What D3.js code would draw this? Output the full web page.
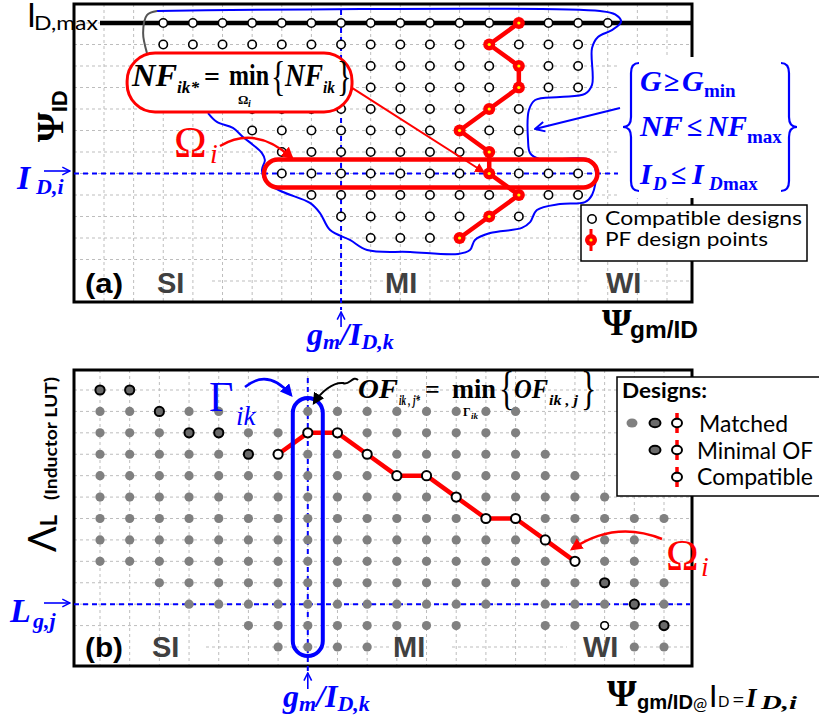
<!DOCTYPE html>
<html>
<head>
<meta charset="utf-8">
<script src="https://cdn.jsdelivr.net/npm/d3@7"></script>
<style>
  body { margin: 0; background: #fff; }
  svg { display: block; }
</style>
</head>
<body>
<div id="chart"></div>
<script>
// ---- data ----
// both panels are a 20 x 13 grid of design points (gm/ID columns x ID / inductor rows)
const nCols = 20, nRows = 13;

// (a) compatible designs: first and last gm/ID column for each ID row (row 0 = ID,max)
const compatRanges = [[2, 17], [2, 16], [2, 16], [2, 16], [5, 14], [5, 14], [6, 14], [6, 16], [7, 16], [8, 14], [9, 12]];
// (a) Pareto-front design point: gm/ID column for each ID row
const pfCols = [14, 13, 14, 14, 13, 12, 13, 13, 14, 13, 12];
const idRowI = 7;    // I_D,i
const gmColA = 8;    // gm/ID,k in (a)

// (a) region Omega_i boundary, in [column, row] units
const contour = [[1.79, -0.56], [16.74, -0.56], [17.25, -0.4], [17.45, -0.05], [17.14, 0.33], [16.67, 0.65], [16.47, 1.16],
  [16.47, 2.88], [16.23, 3.3], [15.39, 3.44], [14.55, 3.58], [14.34, 4.05], [14.31, 5.44], [14.38, 6.05], [14.71, 6.33],
  [16.4, 6.37], [16.6, 6.93], [16.47, 8.0], [16.23, 8.33], [15.39, 8.42], [14.61, 8.7], [14.38, 9.26], [14.1, 9.53],
  [13.03, 9.77], [12.52, 10.09], [12.35, 10.56], [11.95, 10.74], [10.33, 10.65], [8.88, 10.56], [8.3, 10.09],
  [7.63, 9.63], [7.29, 8.84], [6.95, 8.37], [6.04, 7.86], [5.5, 7.44], [5.33, 6.84], [5.43, 6.37], [5.33, 6.05],
  [5.03, 5.67], [4.69, 5.3], [4.35, 4.88], [3.81, 4.6], [3.51, 4.19]];
const contourTail = [[1.45, 1.4], [1.32, 0.47], [1.45, -0.37], [1.79, -0.56]];

// (b) matched designs: column ranges for each inductor LUT row
const matchedRanges = [
  [[0, 1]], [[0, 4], [7, 14]], [[0, 14]], [[0, 15]], [[0, 16]], [[0, 17]], [[0, 19]],
  [[0, 18]], [[0, 18]], [[2, 19]], [[3, 13], [15, 19]], [[5, 12], [15, 19]], [[6, 9], [18, 19]]
];
// (b) minimal-OF designs [row, column]
const minimalOF = [[0, 0], [0, 1], [1, 2], [2, 3], [2, 4], [3, 5], [9, 17], [10, 18], [11, 19]];
// (b) compatible designs along Omega_i [row, column]
const omegaPath = [[3, 6], [2, 7], [2, 8], [3, 9], [4, 10], [4, 11], [5, 12], [6, 13], [6, 14], [7, 15], [8, 16]];
const compatExtra = [[11, 17]];
const lgRowJ = 10;   // Lg,j
const gmColB = 7;    // gm/ID,k in (b)

// ---- setup ----
const W = 819, H = 721;
const SANS = "Lato, 'Open Sans', sans-serif";
const ARIAL = "'Liberation Sans', Arial, sans-serif";
const SERIF = "'Liberation Serif', 'DejaVu Serif', serif";
const BLUE = '#0000ff', RED = '#ff0000', GRID = '#bdbdbd';

const fA = { l: 74, t: 4, r: 692, b: 302 };
const fB = { l: 74, t: 370, r: 692, b: 666 };

const xA = d3.scaleLinear().domain([0, nCols - 1]).range([104, 667]);
const yA = d3.scaleLinear().domain([0, nRows - 1]).range([23, 281]);
const xB = d3.scaleLinear().domain([0, nCols - 1]).range([100, 664]);
const yB = d3.scaleLinear().domain([0, nRows - 1]).range([390, 647]);

const svg = d3.select('#chart').append('svg')
  .attr('width', W).attr('height', H)
  .style('background', '#fff');

const defs = svg.append('defs');
function marker(id, color, open, size) {
  const m = defs.append('marker').attr('id', id)
    .attr('viewBox', '0 0 10 10').attr('refX', open ? 9 : 8).attr('refY', 5)
    .attr('markerWidth', size).attr('markerHeight', size)
    .attr('orient', 'auto');
  if (open) {
    m.append('path').attr('d', 'M1,1 L9,5 L1,9').attr('fill', 'none')
      .attr('stroke', color).attr('stroke-width', 1.6);
  } else {
    m.append('path').attr('d', 'M0,0 L10,5 L0,10 z').attr('fill', color);
  }
}
marker('hRed', RED, false, 5);
marker('hBlue', BLUE, false, 5);
marker('hBlack', '#000', false, 6);
marker('oBlue', BLUE, true, 6);

function label(g, x, y, s, o) {
  const t = g.append('text').attr('x', x).attr('y', y).text(s)
    .attr('font-family', o.ff || SANS).attr('font-size', o.fs)
    .attr('fill', o.fill || '#000');
  if (o.fw) t.attr('font-weight', o.fw);
  if (o.it) t.attr('font-style', 'italic');
  if (o.len) t.attr('textLength', o.len).attr('lengthAdjust', 'spacingAndGlyphs');
  if (o.rot) t.attr('transform', `rotate(${o.rot},${x},${y})`);
  return t;
}
// tall curly bracket glyph, stretched vertically
function tallBracket(g, x, y, s, fs) {
  return g.append('text').attr('transform', `translate(${x},${y}) scale(1,1.42)`)
    .attr('font-family', SERIF).attr('font-size', fs).text(s);
}

function hGrid(g, f, y) {
  g.selectAll('line').data(d3.range(nRows)).join('line')
    .attr('x1', f.l).attr('x2', f.r)
    .attr('y1', d => y(d)).attr('y2', d => y(d))
    .attr('stroke', GRID).attr('stroke-width', 1).attr('stroke-dasharray', '3,3');
}
function vGrid(g, f, x) {
  g.selectAll('line').data(d3.range(nCols)).join('line')
    .attr('x1', d => x(d)).attr('x2', d => x(d))
    .attr('y1', f.t).attr('y2', f.b)
    .attr('stroke', GRID).attr('stroke-width', 1).attr('stroke-dasharray', '3,3');
}
function frame(g, f) {
  g.append('rect').attr('x', f.l).attr('y', f.t)
    .attr('width', f.r - f.l).attr('height', f.b - f.t)
    .attr('fill', 'none').attr('stroke', '#000').attr('stroke-width', 3);
}
function gap(strip, x0, x1, y) {
  strip.append('rect').attr('x', x0).attr('y', y - 3)
    .attr('width', x1 - x0).attr('height', 6).attr('fill', '#fff');
}
function brace(g, x, y0, y1, dir) {
  const w = 8 * dir, r = 10, ym = (y0 + y1) / 2;
  g.append('path')
    .attr('d', `M${x + w},${y0} Q${x},${y0} ${x},${y0 + r} L${x},${ym - r} Q${x},${ym} ${x - w},${ym}
                Q${x},${ym} ${x},${ym + r} L${x},${y1 - r} Q${x},${y1} ${x + w},${y1}`)
    .attr('fill', 'none').attr('stroke', BLUE).attr('stroke-width', 2.2);
}

// ================= panel (a) =================
const gA = svg.append('g');
const hA = gA.append('g'), stripA = gA.append('g'), vA = gA.append('g');
hGrid(hA, fA, yA);
vGrid(vA, fA, xA);
frame(gA, fA);

// ID,max line
gA.append('line').attr('x1', 100).attr('x2', fA.r)
  .attr('y1', yA(0)).attr('y2', yA(0))
  .attr('stroke', '#000').attr('stroke-width', 4.5);

// blue guide lines
gA.append('line').attr('x1', fA.l).attr('x2', 622)
  .attr('y1', yA(idRowI)).attr('y2', yA(idRowI))
  .attr('stroke', BLUE).attr('stroke-width', 2).attr('stroke-dasharray', '5,4');
gA.append('line').attr('x1', xA(gmColA)).attr('x2', xA(gmColA))
  .attr('y1', yA(-0.6)).attr('y2', fA.b + 8)
  .attr('stroke', BLUE).attr('stroke-width', 2).attr('stroke-dasharray', '5,4');

// Omega_i boundary
const cLine = d3.line().x(d => xA(d[0])).y(d => yA(d[1])).curve(d3.curveCatmullRom.alpha(0.5));
gA.append('path').attr('d', cLine(contour)).attr('fill', 'none')
  .attr('stroke', BLUE).attr('stroke-width', 2);
gA.append('path').attr('d', cLine(contourTail)).attr('fill', 'none')
  .attr('stroke', '#555').attr('stroke-width', 2);

// constraints block
gA.append('rect').attr('x', 618).attr('y', 57).attr('width', 190).attr('height', 141).attr('fill', '#fff');
brace(gA, 631, 63, 191, 1);
brace(gA, 789, 63, 191, -1);
const cst = { ff: SERIF, fw: 'bold', it: true, fill: BLUE };
label(gA, 640, 91, 'G', { ...cst, fs: 30 });
label(gA, 664, 91, '≥', { ...cst, fs: 28, it: false });
label(gA, 682, 91, 'G', { ...cst, fs: 30 });
label(gA, 704, 97, 'min', { ...cst, fs: 19, it: false });
label(gA, 640, 136, 'NF', { ...cst, fs: 30, len: 43 });
label(gA, 687, 136, '≤', { ...cst, fs: 28, it: false });
label(gA, 707, 136, 'NF', { ...cst, fs: 30, len: 40 });
label(gA, 747, 143, 'max', { ...cst, fs: 19, it: false });
label(gA, 640, 184, 'I', { ...cst, fs: 30 });
label(gA, 653, 190, 'D', { ...cst, fs: 19 });
label(gA, 671, 184, '≤', { ...cst, fs: 28, it: false });
label(gA, 692, 184, 'I', { ...cst, fs: 30 });
label(gA, 709, 190, 'D', { ...cst, fs: 19 });
label(gA, 723, 190, 'max', { ...cst, fs: 19, it: false });
gA.append('line').attr('x1', 620).attr('y1', 108).attr('x2', 535).attr('y2', 129)
  .attr('stroke', BLUE).attr('stroke-width', 2).attr('marker-end', 'url(#oBlue)');

// compatible designs
const compatPts = compatRanges.flatMap((r, row) => d3.range(r[0], r[1] + 1).map(col => ({ row, col })));
gA.append('g').selectAll('circle').data(compatPts).join('circle')
  .attr('cx', d => xA(d.col)).attr('cy', d => yA(d.row)).attr('r', 4.2)
  .attr('fill', '#fff').attr('stroke', '#000').attr('stroke-width', 1.6);

// Pareto-front design points
const pfPts = pfCols.map((col, row) => ({ row, col }));
gA.append('path')
  .attr('d', d3.line().x(d => xA(d.col)).y(d => yA(d.row))(pfPts))
  .attr('fill', 'none').attr('stroke', RED).attr('stroke-width', 4.5).attr('stroke-linejoin', 'round');
const pfG = gA.append('g').selectAll('g').data(pfPts).join('g')
  .attr('transform', d => `translate(${xA(d.col)},${yA(d.row)})`);
pfG.append('circle').attr('r', 6).attr('fill', RED);
pfG.append('circle').attr('r', 1.6).attr('fill', '#ffff00');

// Omega_i row box
gA.append('rect')
  .attr('x', xA(5.4)).attr('y', yA(idRowI) - 14)
  .attr('width', xA(16.65) - xA(5.4)).attr('height', 28).attr('rx', 14)
  .attr('fill', 'none').attr('stroke', RED).attr('stroke-width', 4.5);

// NF formula box with pointer
gA.append('line').attr('x1', xA(8.37)).attr('y1', yA(3.02)).attr('x2', xA(12.8)).attr('y2', yA(6.92))
  .attr('stroke', RED).attr('stroke-width', 2).attr('marker-end', 'url(#hRed)');
gA.append('rect')
  .attr('x', xA(0.78)).attr('y', yA(1.4))
  .attr('width', xA(8.37) - xA(0.78)).attr('height', yA(4.14) - yA(1.4)).attr('rx', 28)
  .attr('fill', '#fff').attr('stroke', RED).attr('stroke-width', 3);
const fm = { ff: SERIF, fw: 'bold', it: true };
label(gA, 132, 86, 'NF', { ...fm, fs: 32, len: 45 });
label(gA, 177, 93, 'ik*', { ...fm, fs: 17, len: 22 });
label(gA, 204, 86, '=', { ...fm, fs: 28, it: false });
label(gA, 229, 85, 'min', { ...fm, fs: 30, it: false, len: 40 });
label(gA, 238, 104, 'Ω', { ...fm, fs: 13, it: false });
label(gA, 248, 107, 'i', { ...fm, fs: 10 });
tallBracket(gA, 271, 90, '{', 30);
label(gA, 285, 86, 'NF', { ...fm, fs: 32, len: 38 });
label(gA, 323, 93, 'ik', { ...fm, fs: 17, len: 12 });
tallBracket(gA, 337, 90, '}', 30);

// Omega_i label and arrow
label(gA, 174, 157, 'Ω', { ff: SERIF, fs: 44, fill: RED });
label(gA, 210, 163, 'i', { ff: SERIF, fs: 28, it: true, fill: RED });
gA.append('path').attr('d', 'M220,146 Q256,125 292,158')
  .attr('fill', 'none').attr('stroke', RED).attr('stroke-width', 2.5).attr('marker-end', 'url(#hRed)');

// axis labels (a)
label(gA, 27, 27, 'I', { fs: 32 });
label(gA, 34, 30, 'D,max', { fs: 20, len: 64 });
const psiA = gA.append('text').attr('transform', 'translate(63,142) rotate(-90)');
psiA.append('tspan').text('Ψ').attr('font-family', SERIF).attr('font-weight', 'bold').attr('font-size', 38);
psiA.append('tspan').text('ID').attr('font-family', ARIAL).attr('font-weight', 'bold').attr('font-size', 22).attr('dy', 4);
label(gA, 17, 189, 'I', { ...fm, fs: 34, fill: BLUE });
label(gA, 36, 194, 'D,i', { ...fm, fs: 22, fill: BLUE });
gA.append('line').attr('x1', 44).attr('x2', 70).attr('y1', 171).attr('y2', 171)
  .attr('stroke', BLUE).attr('stroke-width', 1.6).attr('marker-end', 'url(#oBlue)');
gA.append('line').attr('x1', xA(gmColA)).attr('x2', xA(gmColA)).attr('y1', 327).attr('y2', 312)
  .attr('stroke', BLUE).attr('stroke-width', 1.6).attr('marker-end', 'url(#oBlue)');
const gmA = gA.append('text').attr('x', 307).attr('y', 345)
  .attr('font-family', SERIF).attr('font-weight', 'bold').attr('font-style', 'italic').attr('fill', BLUE);
gmA.append('tspan').text('g').attr('font-size', 32);
gmA.append('tspan').text('m').attr('font-size', 22).attr('dy', 4);
gmA.append('tspan').text('/').attr('font-size', 32).attr('dy', -4);
gmA.append('tspan').text('I').attr('font-size', 32);
gmA.append('tspan').text('D,k').attr('font-size', 22).attr('dy', 4);
label(gA, 602, 335, 'Ψ', { ff: SERIF, fw: 'bold', fs: 38 });
label(gA, 630, 338, 'gm/ID', { ff: ARIAL, fw: 'bold', fs: 23, len: 68 });

// region labels (a)
const zone = { ff: ARIAL, fw: 'bold', fs: 29, fill: '#404040' };
label(gA, 85, 293, '(a)', { ff: ARIAL, fw: 'bold', fs: 27, len: 38 });
label(gA, 157, 293, 'SI', zone);
label(gA, 385, 293, 'MI', zone);
label(gA, 606, 293, 'WI', zone);
gap(stripA, fA.l, 210, yA(12));
gap(stripA, 383, 440, yA(12));
gap(stripA, 590, 643, yA(12));

// legend (a)
gA.append('rect').attr('x', 581).attr('y', 205).attr('width', 226).attr('height', 56)
  .attr('fill', '#fff').attr('stroke', '#000').attr('stroke-width', 1.5);
gA.append('circle').attr('cx', 592).attr('cy', 219).attr('r', 4.2)
  .attr('fill', '#fff').attr('stroke', '#000').attr('stroke-width', 1.6);
label(gA, 605, 225, 'Compatible designs', { fs: 20, len: 197 });
gA.append('line').attr('x1', 591).attr('x2', 591).attr('y1', 229).attr('y2', 251)
  .attr('stroke', RED).attr('stroke-width', 3);
gA.append('circle').attr('cx', 591).attr('cy', 240).attr('r', 6).attr('fill', RED);
gA.append('circle').attr('cx', 591).attr('cy', 240).attr('r', 1.6).attr('fill', '#ffff00');
label(gA, 605, 246, 'PF design points', { fs: 20, len: 163 });

// ================= panel (b) =================
const gB = svg.append('g');
const hB = gB.append('g'), stripB = gB.append('g'), vB = gB.append('g');
hGrid(hB, fB, yB);
vGrid(vB, fB, xB);
frame(gB, fB);

gB.append('line').attr('x1', fB.l).attr('x2', 690)
  .attr('y1', yB(lgRowJ)).attr('y2', yB(lgRowJ))
  .attr('stroke', BLUE).attr('stroke-width', 2).attr('stroke-dasharray', '5,4');
gB.append('line').attr('x1', xB(gmColB)).attr('x2', xB(gmColB))
  .attr('y1', fB.t + 8).attr('y2', fB.b + 8)
  .attr('stroke', BLUE).attr('stroke-width', 2).attr('stroke-dasharray', '5,4');

// matched designs
const matchedPts = matchedRanges.flatMap((rs, row) =>
  rs.flatMap(r => d3.range(r[0], r[1] + 1).map(col => ({ row, col }))));
gB.append('g').selectAll('circle').data(matchedPts).join('circle')
  .attr('cx', d => xB(d.col)).attr('cy', d => yB(d.row)).attr('r', 4.6)
  .attr('fill', '#808080');
gB.append('g').selectAll('circle').data(minimalOF).join('circle')
  .attr('cx', d => xB(d[1])).attr('cy', d => yB(d[0])).attr('r', 4.6)
  .attr('fill', '#6a6a6a').attr('stroke', '#000').attr('stroke-width', 2);

// Omega_i compatible path
gB.append('path')
  .attr('d', d3.line().x(d => xB(d[1])).y(d => yB(d[0]))(omegaPath))
  .attr('fill', 'none').attr('stroke', RED).attr('stroke-width', 4.5).attr('stroke-linejoin', 'round');
gB.append('g').selectAll('circle').data(omegaPath).join('circle')
  .attr('cx', d => xB(d[1])).attr('cy', d => yB(d[0])).attr('r', 4.6)
  .attr('fill', '#fff').attr('stroke', '#000').attr('stroke-width', 2);
gB.append('g').selectAll('circle').data(compatExtra).join('circle')
  .attr('cx', d => xB(d[1])).attr('cy', d => yB(d[0])).attr('r', 3.8)
  .attr('fill', '#fff').attr('stroke', '#000').attr('stroke-width', 1.5);

// Gamma_ik column box
gB.append('rect')
  .attr('x', xB(gmColB) - 15).attr('y', 398)
  .attr('width', 30).attr('height', 258).attr('rx', 15)
  .attr('fill', 'none').attr('stroke', BLUE).attr('stroke-width', 4);

// Gamma label and arrow
label(gB, 209, 411, 'Γ', { ff: SERIF, fs: 42, fill: BLUE });
label(gB, 236, 425, 'ik', { ff: SERIF, fs: 27, it: true, fill: BLUE });
gB.append('path').attr('d', 'M245,387 Q268,368 291,395')
  .attr('fill', 'none').attr('stroke', BLUE).attr('stroke-width', 2.5).attr('marker-end', 'url(#hBlue)');

// OF formula with pointer
gB.append('path').attr('d', 'M358,380 C353,375 349,386 343,383 C333,382 321,392 314,403')
  .attr('fill', 'none').attr('stroke', '#000').attr('stroke-width', 2).attr('marker-end', 'url(#hBlack)');
label(gB, 358, 398, 'OF', { ...fm, fs: 28, len: 40 });
label(gB, 399, 405, 'ik , j*', { ...fm, fs: 14, len: 21 });
label(gB, 425, 398, '=', { ...fm, fs: 26, it: false });
label(gB, 452, 398, 'min', { ...fm, fs: 28, it: false, len: 44 });
label(gB, 463, 416, 'Γ', { ...fm, fs: 12, it: false });
label(gB, 471, 419, 'ik', { ...fm, fs: 9 });
tallBracket(gB, 499, 404, '{', 32);
label(gB, 514, 398, 'OF', { ...fm, fs: 28, len: 34 });
label(gB, 549, 405, 'ik , j', { ...fm, fs: 14, len: 29 });
tallBracket(gB, 581, 404, '}', 32);

// Omega_i label (b)
label(gB, 666, 570, 'Ω', { ff: SERIF, fs: 44, fill: RED });
label(gB, 701, 576, 'i', { ff: SERIF, fs: 28, it: true, fill: RED });
gB.append('path').attr('d', 'M662,539 Q615,520 572,549')
  .attr('fill', 'none').attr('stroke', RED).attr('stroke-width', 2.5).attr('marker-end', 'url(#hRed)');

// axis labels (b)
const lam = gB.append('text').attr('transform', 'translate(56,552) rotate(-90)').attr('font-family', SANS);
lam.append('tspan').text('Λ').attr('font-size', 38);
lam.append('tspan').text('L').attr('font-size', 22).attr('font-weight', 'bold').attr('dy', 1);
label(gB, 57, 500, '(Inductor LUT)', { fs: 17, fw: 'bold', len: 123, rot: -90 });
label(gB, 10, 622, 'L', { ...fm, fs: 34, fill: BLUE });
label(gB, 33, 628, 'g,j', { ...fm, fs: 22, fill: BLUE });
gB.append('line').attr('x1', 44).attr('x2', 70).attr('y1', 603).attr('y2', 603)
  .attr('stroke', BLUE).attr('stroke-width', 1.6).attr('marker-end', 'url(#oBlue)');
gB.append('line').attr('x1', xB(gmColB)).attr('x2', xB(gmColB)).attr('y1', 689).attr('y2', 673)
  .attr('stroke', BLUE).attr('stroke-width', 1.6).attr('marker-end', 'url(#oBlue)');
const gmB = gB.append('text').attr('x', 283).attr('y', 707)
  .attr('font-family', SERIF).attr('font-weight', 'bold').attr('font-style', 'italic').attr('fill', BLUE);
gmB.append('tspan').text('g').attr('font-size', 32);
gmB.append('tspan').text('m').attr('font-size', 22).attr('dy', 4);
gmB.append('tspan').text('/').attr('font-size', 32).attr('dy', -4);
gmB.append('tspan').text('I').attr('font-size', 32);
gmB.append('tspan').text('D,k').attr('font-size', 22).attr('dy', 4);

label(gB, 607, 706, 'Ψ', { ff: SERIF, fw: 'bold', fs: 38 });
label(gB, 637, 709, 'gm/ID', { ff: ARIAL, fw: 'bold', fs: 21, len: 56 });
label(gB, 693, 710, '@', { ff: SANS, fs: 17 });
label(gB, 709, 707, 'I', { ff: SANS, fs: 30 });
label(gB, 718, 707, 'D', { ff: SANS, fs: 15 });
label(gB, 732, 707, '=', { ff: SANS, fs: 22 });
label(gB, 746, 707, 'I', { ...fm, fs: 27 });
label(gB, 761, 709, 'D,i', { ...fm, fs: 19, len: 36 });

// region labels (b)
label(gB, 85, 657, '(b)', { ff: ARIAL, fw: 'bold', fs: 27, len: 38 });
label(gB, 152, 657, 'SI', zone);
label(gB, 393, 657, 'MI', zone);
label(gB, 583, 657, 'WI', zone);
gap(stripB, fB.l, 203, yB(12));
gap(stripB, 390, 450, yB(12));
gap(stripB, 567, 630, yB(12));

// legend (b)
gB.append('rect').attr('x', 617).attr('y', 377).attr('width', 215).attr('height', 119)
  .attr('fill', '#fff').attr('stroke', '#000').attr('stroke-width', 1.5);
label(gB, 622, 398, 'Designs:', { fs: 21, fw: 'bold', len: 85 });
const legRows = [423, 450, 477];
gB.append('ellipse').attr('cx', 632).attr('cy', legRows[0]).attr('rx', 5.5).attr('ry', 4.5).attr('fill', '#808080');
legRows.slice(0, 2).forEach(y => {
  gB.append('ellipse').attr('cx', 655).attr('cy', y).attr('rx', 5.5).attr('ry', 4.2)
    .attr('fill', '#6a6a6a').attr('stroke', '#000').attr('stroke-width', 2);
});
legRows.forEach(y => {
  gB.append('line').attr('x1', 677).attr('x2', 677).attr('y1', y - 10).attr('y2', y + 10)
    .attr('stroke', RED).attr('stroke-width', 3.5);
  gB.append('ellipse').attr('cx', 677).attr('cy', y).attr('rx', 5).attr('ry', 4.2)
    .attr('fill', '#fff').attr('stroke', '#000').attr('stroke-width', 2);
});
label(gB, 699, 432, 'Matched', { fs: 23, len: 89 });
label(gB, 697, 459, 'Minimal OF', { fs: 23, len: 116 });
label(gB, 697, 485, 'Compatible', { fs: 23, len: 116 });
</script>
</body>
</html>
